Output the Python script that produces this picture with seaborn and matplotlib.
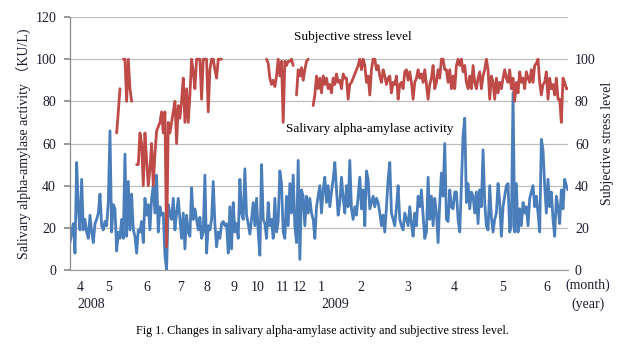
import numpy as np
import pandas as pd
import matplotlib
matplotlib.use("Agg")
import matplotlib.pyplot as plt
from matplotlib.transforms import blended_transform_factory
import seaborn as sns

# Salivary alpha-amylase activity (KU/L), one value per measurement
amylase_2008_spring = [13, 18, 22, 8, 51, 29, 19, 43, 19, 24, 18, 15, 26, 18, 13, 22, 24, 27, 36, 21,
                       19, 23, 21, 32, 66, 18, 31, 29, 9, 18, 15, 24, 15, 55, 16, 42, 19, 36, 19, 16,
                       8, 19, 18, 23, 13, 34, 26, 31, 19, 34, 40, 27, 45, 18, 30, 26, 27, 7, 0, 31,
                       27, 24, 34, 19, 27, 34, 24, 15, 27, 10, 26, 18, 16, 39, 24, 29, 24, 19, 25, 15,
                       18, 45, 8, 21, 19, 24, 42, 22, 11, 18]
amylase_2008_autumn = [15, 22, 23, 21, 22, 8, 30, 10, 32, 18, 22, 15, 43, 27, 24, 48, 26, 22, 17, 24,
                       32, 21, 34, 18, 7, 50, 24, 22, 15, 32, 21, 24, 15, 34, 18, 23, 47, 41, 18]
amylase_2008_winter = [15, 35, 21, 41, 27, 45, 21, 13, 52, 5, 38, 35, 21, 35, 27, 34, 27, 24, 15, 30,
                       35, 40, 27, 38, 44, 32, 40, 30, 37, 43, 51, 38, 26, 32, 44, 34, 27, 40, 30, 52,
                       29, 24, 30]
amylase_2009_q1 = [26, 35, 44, 29, 38, 21, 47, 43, 29, 32, 35, 30, 34, 32, 27, 21, 26, 18, 30, 43,
                   51, 27, 24, 21, 30, 40, 24, 21, 19, 27, 24, 21, 30, 22, 16, 27, 21, 35, 30, 38,
                   26, 15]
amylase_2009_q2a = [18, 44, 24, 35, 21, 34, 27, 13, 32, 46, 35, 60, 24, 23, 38, 30, 29, 37, 37, 24,
                    18, 40, 64, 72, 32, 41, 29, 37, 35, 27, 37, 22, 38, 30, 57, 32, 21, 19, 40, 25,
                    18, 24, 27]
amylase_2009_q2b = [41, 32, 16, 30, 35, 40, 41, 18, 21, 84, 18, 41, 18, 29, 21, 32, 27, 30, 21, 34,
                    37, 40, 30, 35, 27, 18, 62, 57, 40, 27, 43, 30, 37, 24, 16, 35, 30, 22, 38, 29,
                    43, 40, 38]

# Subjective stress level: recorded in runs, each with its first measurement index
stress_run1 = [65, 75, 86]
stress_run2 = [100, 100, 80, 100, 86, 80]
stress_run3 = [50, 50, 65, 60, 40, 65, 52, 40, 48, 60, 40, 55, 66, 68, 70, 75, 65, 75, 11, 70,
               65, 70, 75, 80, 60, 78, 72, 80, 91, 70, 86, 70, 83, 100, 94, 86, 100, 100, 100, 81,
               100, 100, 100, 75, 95, 100, 100, 95, 91, 100, 100, 100]
stress_run4 = [100, 98, 91, 88, 90, 87, 92, 100, 92, 99, 70, 99, 97, 99, 99, 100, 97]
stress_run5 = [83, 95, 92, 96, 90, 95, 99, 100]
stress_run6 = [78, 83, 92, 86, 91, 84, 92, 88, 91, 86, 88, 84, 91, 88, 93, 89, 90, 86, 93, 91,
               91, 81, 88, 89, 91, 93, 95, 97, 100, 95, 100, 97, 89, 92, 83, 95, 100, 100, 95, 97,
               92, 89, 95, 92, 88, 91, 92, 84, 89, 88, 92, 81, 88, 89, 86, 94, 95, 90, 94, 89,
               81, 89, 91, 95, 91, 93, 89, 95, 88, 81, 88,
               91, 97, 86, 89, 95, 91, 100, 100, 95, 95, 89, 95, 86, 92, 86, 97, 100, 97, 100, 94,
               97, 89, 86, 92, 86, 97, 89, 86, 91, 94, 86, 92, 95, 100, 95, 81, 92, 89, 81, 91,
               84, 89, 86, 91, 95, 91, 89, 95, 86, 91, 80, 89, 84, 94, 89, 91, 86, 94, 91, 89,
               95, 89, 97, 98, 100, 89, 83, 88, 89, 94, 81, 91, 86, 88, 83, 91, 81, 81, 70, 91,
               89, 86, 86]
stress_runs = [stress_run1, stress_run2, stress_run3, stress_run4, stress_run5, stress_run6]
stress_starts = [28, 32, 40, 118, 136, 146]

# Month / year labels along the measurement axis
month_labels = ["4", "5", "6", "7", "8", "9", "10", "11", "12", "1", "2", "3", "4", "5", "6"]
month_pos = [6.4, 23, 46, 66.6, 82, 98.3, 112.5, 127.5, 138, 151, 174.6, 203, 230.7, 260, 286.4]
year_labels = ["2008", "2009"]
year_pos = [12.6, 159.4]

amylase = (amylase_2008_spring + amylase_2008_autumn + amylase_2008_winter
           + amylase_2009_q1 + amylase_2009_q2a + amylase_2009_q2b)
amy_df = pd.DataFrame({"day": np.arange(len(amylase)), "value": amylase})

rows = []
for k, (start, run) in enumerate(zip(stress_starts, stress_runs)):
    for j, v in enumerate(run):
        rows.append({"day": start + j, "value": v, "run": k})
stress_df = pd.DataFrame(rows)

sns.set_theme(style="white")
plt.rcParams["font.family"] = ["Liberation Serif", "Noto Sans CJK JP", "DejaVu Sans"]

BLUE = "#4A7EBB"
RED = "#BE4B48"
GRID = "#BDBDBD"
TXT = "#1C1C30"

fig = plt.figure(figsize=(6.31, 3.45), dpi=100)
ax = fig.add_axes([70 / 631, 75 / 345, 498 / 631, 253 / 345])

sns.lineplot(data=amy_df, x="day", y="value", ax=ax, color=BLUE, linewidth=2.0)
sns.lineplot(data=stress_df, x="day", y="value", units="run", estimator=None,
             ax=ax, color=RED, linewidth=2.0)

ax.set_xlim(0, 299)
ax.set_ylim(0, 120)
ax.set_yticks(np.arange(0, 121, 20))
ax.yaxis.grid(True, color=GRID, linewidth=0.9)
ax.set_axisbelow(True)
for s in ["top", "right"]:
    ax.spines[s].set_visible(False)
ax.spines["left"].set_color("#8C8C8C")
ax.spines["bottom"].set_color("#A0A0A0")
ax.spines["left"].set_linewidth(0.9)
ax.spines["bottom"].set_linewidth(0.9)
ax.tick_params(axis="y", length=4, color="#8C8C8C", labelsize=10, labelcolor=TXT, pad=6)

ax.set_xticks(month_pos)
ax.set_xticklabels(month_labels)
ax.tick_params(axis="x", length=0, labelsize=10, labelcolor=TXT, pad=8)
ax.set_xlabel("")
ax.set_ylabel("Salivary alpha-amylase activity （KU/L)", fontsize=10, color=TXT, labelpad=2)

ax2 = ax.twinx()
ax2.set_ylim(0, 120)
ax2.set_yticks(np.arange(0, 101, 20))
ax2.tick_params(axis="y", length=0, labelsize=10, labelcolor=TXT, pad=5)
for s in ax2.spines.values():
    s.set_visible(False)
ax2.set_ylabel("Subjective stress level", fontsize=10, color=TXT, labelpad=4)

trans = blended_transform_factory(ax.transData, fig.transFigure)
for lab, pos in zip(year_labels, year_pos):
    fig.text(pos, 1 - 304 / 345, lab, transform=trans, ha="center", va="center",
             fontsize=10, color=TXT)
fig.text(588 / 631, 1 - 285 / 345, "(month)", ha="center", va="center", fontsize=10, color=TXT)
fig.text(588 / 631, 1 - 304 / 345, "(year)", ha="center", va="center", fontsize=10, color=TXT)

ax.text(353 / 631, 1 - 37 / 345, "Subjective stress level", transform=fig.transFigure,
        ha="center", va="center", fontsize=9.5, color="black")
ax.text(370 / 631, 1 - 129 / 345, "Salivary alpha-amylase activity", transform=fig.transFigure,
        ha="center", va="center", fontsize=9.5, color="black")

fig.text(322 / 631, 1 - 331 / 345,
         "Fig 1. Changes in salivary alpha-amylase activity and subjective stress level.",
         ha="center", va="center", fontsize=8.7, color="black")

fig.savefig("out.png", dpi=100)
